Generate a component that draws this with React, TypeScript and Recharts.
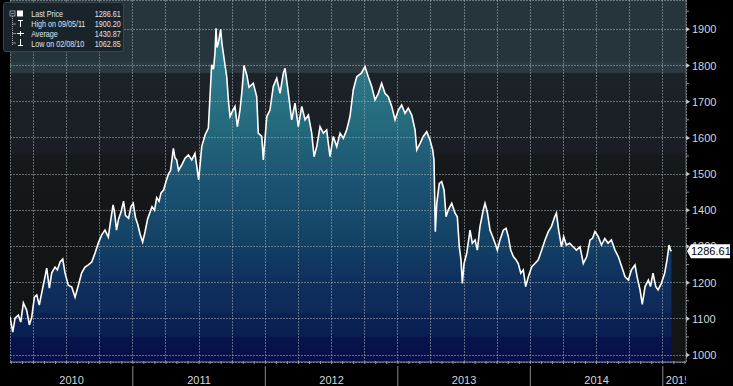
import React from "react";
import {
  ComposedChart,
  Area,
  Line,
  XAxis,
  YAxis,
  CartesianGrid,
} from "recharts";

// decimal years and closing prices
const years = [
  2010.073, 2010.094, 2010.111, 2010.136, 2010.154, 2010.174, 2010.199, 2010.219,
  2010.237, 2010.257, 2010.275, 2010.294, 2010.312, 2010.337, 2010.35, 2010.37,
  2010.388, 2010.413, 2010.43, 2010.451, 2010.471, 2010.488, 2010.513, 2010.539,
  2010.564, 2010.589, 2010.614, 2010.639, 2010.664, 2010.69, 2010.715, 2010.74,
  2010.765, 2010.79, 2010.815, 2010.832, 2010.851, 2010.862, 2010.877, 2010.892,
  2010.911, 2010.93, 2010.945, 2010.968, 2010.986, 2011.003, 2011.02, 2011.038,
  2011.054, 2011.074, 2011.092, 2011.111, 2011.127, 2011.145, 2011.164, 2011.18,
  2011.198, 2011.213, 2011.232, 2011.251, 2011.269, 2011.285, 2011.306, 2011.318,
  2011.331, 2011.345, 2011.369, 2011.394, 2011.419, 2011.445, 2011.469, 2011.497,
  2011.52, 2011.545, 2011.57, 2011.595, 2011.609, 2011.62, 2011.628, 2011.635,
  2011.645, 2011.654, 2011.663, 2011.673, 2011.683, 2011.696, 2011.709, 2011.722,
  2011.734, 2011.751, 2011.771, 2011.789, 2011.809, 2011.824, 2011.839, 2011.86,
  2011.877, 2011.909, 2011.935, 2011.947, 2011.973, 2011.985, 2012.011, 2012.035,
  2012.06, 2012.086, 2012.111, 2012.136, 2012.149, 2012.174, 2012.199, 2012.224,
  2012.249, 2012.275, 2012.3, 2012.325, 2012.35, 2012.368, 2012.388, 2012.413,
  2012.438, 2012.463, 2012.488, 2012.513, 2012.539, 2012.564, 2012.589, 2012.614,
  2012.639, 2012.664, 2012.69, 2012.725, 2012.752, 2012.777, 2012.803, 2012.828,
  2012.853, 2012.878, 2012.903, 2012.928, 2012.954, 2012.979, 2013.004, 2013.029,
  2013.054, 2013.079, 2013.105, 2013.13, 2013.143, 2013.168, 2013.192, 2013.218,
  2013.243, 2013.263, 2013.273, 2013.283, 2013.294, 2013.313, 2013.331, 2013.349,
  2013.364, 2013.381, 2013.407, 2013.432, 2013.449, 2013.464, 2013.477, 2013.487,
  2013.5, 2013.52, 2013.545, 2013.562, 2013.583, 2013.6, 2013.62, 2013.645,
  2013.658, 2013.675, 2013.696, 2013.716, 2013.734, 2013.751, 2013.771, 2013.796,
  2013.817, 2013.834, 2013.852, 2013.872, 2013.892, 2013.909, 2013.928, 2013.947,
  2013.965, 2013.985, 2014.011, 2014.035, 2014.06, 2014.086, 2014.111, 2014.136,
  2014.159, 2014.184, 2014.197, 2014.214, 2014.235, 2014.252, 2014.272, 2014.297,
  2014.323, 2014.348, 2014.375, 2014.4, 2014.426, 2014.451, 2014.469, 2014.488,
  2014.513, 2014.537, 2014.562, 2014.587, 2014.612, 2014.639, 2014.664, 2014.69,
  2014.715, 2014.74, 2014.763, 2014.79, 2014.806, 2014.828, 2014.845, 2014.866,
  2014.891, 2014.907, 2014.926, 2014.947, 2014.964, 2014.989, 2015.014, 2015.032,
  2015.047, 2015.058, 2015.065,
];

const prices = [
  1105, 1063, 1102, 1110, 1091, 1144, 1124, 1083,
  1105, 1160, 1166, 1138, 1171, 1216, 1240, 1185,
  1227, 1243, 1235, 1257, 1265, 1227, 1193, 1188,
  1160, 1193, 1227, 1243, 1249, 1257, 1282, 1310,
  1332, 1345, 1326, 1370, 1415, 1395, 1345, 1375,
  1395, 1425, 1385, 1378, 1410, 1419, 1380, 1360,
  1335, 1312, 1340, 1375, 1392, 1410, 1400, 1435,
  1425, 1448, 1456, 1480, 1500, 1510, 1571, 1545,
  1539, 1510, 1525, 1544, 1553, 1539, 1557, 1484,
  1576, 1608, 1627, 1802, 1790, 1834, 1903, 1850,
  1861, 1880, 1900, 1860, 1834, 1800, 1769, 1700,
  1659, 1673, 1687, 1631, 1677, 1730, 1800, 1774,
  1740, 1751, 1714, 1613, 1604, 1539, 1659, 1677,
  1742, 1765, 1723, 1779, 1792, 1723, 1650, 1696,
  1631, 1687, 1650, 1663, 1613, 1548, 1576, 1631,
  1613, 1622, 1548, 1604, 1576, 1613, 1599, 1622,
  1659, 1733, 1769, 1779, 1797, 1769, 1742, 1705,
  1723, 1751, 1723, 1714, 1687, 1650, 1677, 1691,
  1668, 1682, 1663, 1622, 1567, 1585, 1604, 1617,
  1594, 1567, 1539, 1341, 1419, 1474, 1479, 1456,
  1382, 1401, 1419, 1392, 1382, 1299, 1263, 1198,
  1253, 1281, 1345, 1309, 1318, 1290, 1355, 1401,
  1419, 1396, 1345, 1327, 1309, 1290, 1318, 1345,
  1350, 1327, 1290, 1272, 1263, 1253, 1226, 1235,
  1189, 1216, 1244, 1253, 1263, 1290, 1318, 1341,
  1355, 1382, 1392, 1345, 1299, 1327, 1304, 1309,
  1299, 1290, 1299, 1253, 1272, 1318, 1322, 1341,
  1327, 1304, 1322, 1309, 1318, 1290, 1272, 1244,
  1216, 1207, 1235, 1249, 1216, 1180, 1140, 1189,
  1207, 1189, 1226, 1189, 1180, 1198, 1226, 1263,
  1304, 1290, 1286.61,
];

const priceTicks = [1000, 1100, 1200, 1300, 1400, 1500, 1600, 1700, 1800, 1900];
const minorPriceTicks = [1050, 1150, 1250, 1350, 1450, 1550, 1650, 1750, 1850, 1950];
const yearLabels = ["2010", "2011", "2012", "2013", "2014", "2015"];
const lastPrice = 1286.61;

const legendRows = [
  { label: "Last Price", value: "1286.61" },
  { label: "High on 09/05/11", value: "1900.20" },
  { label: "Average", value: "1430.87" },
  { label: "Low on 02/08/10", value: "1062.85" },
];

const data = years.map((t, i) => ({ t, price: prices[i] }));

const monthTicks = Array.from({ length: 62 }, (_, i) => 2010 + (i + 1) / 12);
const quarterTicks = monthTicks.filter((_, i) => (i + 1) % 3 === 0);

// right axis ticks, top to bottom so the last price box draws over 1300
const yTicks = [...priceTicks, ...minorPriceTicks, lastPrice].sort((a, b) =>
  a === lastPrice ? 1 : b === lastPrice ? -1 : b - a
);

const X_DOMAIN: [number, number] = [2010.073, 2015.175];
const Y_DOMAIN: [number, number] = [980.7, 1981];
const W = 733;
const H = 386;
const MARGIN = { top: 0, right: 0, bottom: 0, left: 10 };

const FONT = "'Liberation Sans', Arial, sans-serif";
const GRID = "#9aa5aa";

const YTick = (props: any) => {
  const { x, y, payload } = props;
  const v = payload.value;
  if (v === lastPrice) {
    return (
      <g>
        <polygon
          points={`${x + 1},${y} ${x + 5},${y - 7} ${x + 44},${y - 7} ${x + 44},${y + 7} ${x + 5},${y + 7}`}
          fill="#ffffff"
        />
        <text x={x + 5} y={y + 4} fontSize={11} fontFamily={FONT} fill="#000">
          {v.toFixed(2)}
        </text>
      </g>
    );
  }
  if (v % 100 === 0) {
    return (
      <g>
        <polygon points={`${x},${y - 2.5} ${x + 4},${y} ${x},${y + 2.5}`} fill="#c8c8c8" />
        <text x={x + 6} y={y + 4} fontSize={11} fontFamily={FONT} fill="#d6d6d6">
          {v}
        </text>
      </g>
    );
  }
  return <line x1={x} y1={y} x2={x + 3} y2={y} stroke="#8a8a8a" />;
};

const XTick = (props: any) => {
  const { x, y, payload } = props;
  const idx = Math.round((payload.value - 2010) * 12);
  const m = idx % 12;
  const yr = Math.floor(idx / 12);
  return (
    <g>
      <line x1={x} y1={y - 1} x2={x} y2={y + 2} stroke="#8f96a8" />
      {m === 0 && <line x1={x} y1={y + 4} x2={x} y2={y + 24} stroke="#8a8a8a" />}
      {m === 6 && (
        <text
          x={yr === 0 ? x + 5 : x}
          y={y + 22}
          textAnchor="middle"
          fontSize={11}
          fontFamily={FONT}
          fill="#d6d6d6"
        >
          {yearLabels[yr]}
        </text>
      )}
      {m === 0 && yr === 5 && (
        <g>
          <defs>
            <clipPath id="clip2015">
              <rect x={x} y={y} width={23} height={26} />
            </clipPath>
          </defs>
          <text
            x={x + 3}
            y={y + 22}
            fontSize={11}
            fontFamily={FONT}
            fill="#d6d6d6"
            clipPath="url(#clip2015)"
          >
            {yearLabels[yr]}
          </text>
        </g>
      )}
    </g>
  );
};

const LegendBox = () => (
  <div
    style={{
      position: "absolute",
      left: 3,
      top: 2,
      width: 119,
      height: 48,
      background: "#18232a",
      border: "1px solid #3a464c",
      borderRadius: 3,
    }}
  >
    <svg width={119} height={48}>
      <rect x={6} y={8} width={5} height={5} fill="none" stroke="#aab" strokeWidth={0.8} />
      <line x1={7} y1={10.5} x2={10} y2={10.5} stroke="#aab" strokeWidth={0.8} />
      <rect x={13} y={7.5} width={6} height={6} fill="#fff" />
      <line x1={8.5} y1={13} x2={8.5} y2={42} stroke="#aab" strokeDasharray="1 1" />
      {[21, 30.5, 40].map((cy) => (
        <line key={cy} x1={8.5} y1={cy} x2={12} y2={cy} stroke="#aab" strokeWidth={0.8} />
      ))}
      <line x1={14} y1={17.5} x2={19} y2={17.5} stroke="#fff" />
      <line x1={16.5} y1={17.5} x2={16.5} y2={24} stroke="#fff" />
      <line x1={13} y1={30.5} x2={20} y2={30.5} stroke="#fff" />
      <line x1={16.5} y1={28} x2={16.5} y2={33} stroke="#fff" />
      <line x1={16.5} y1={36} x2={16.5} y2={42.5} stroke="#fff" />
      <line x1={14} y1={42.5} x2={19} y2={42.5} stroke="#fff" />
      <g transform="scale(0.8 1)">
        {legendRows.map((r, i) => (
          <g key={r.label}>
            <text x={34} y={14.5 + i * 9.7} fontSize={9} fontFamily={FONT} fill="#e2e6e8">
              {r.label}
            </text>
            <text
              x={146}
              y={14.5 + i * 9.7}
              fontSize={9}
              fontFamily={FONT}
              fill="#e2e6e8"
              textAnchor="end"
            >
              {r.value}
            </text>
          </g>
        ))}
      </g>
    </svg>
  </div>
);

export default function App() {
  return (
    <div
      style={{
        position: "absolute",
        left: 0,
        top: 0,
        width: W,
        height: H,
        background: "#000",
        overflow: "hidden",
      }}
    >
      {/* base layer: background bands, filled area, axes */}
      <ComposedChart width={W} height={H} data={data} margin={MARGIN}>
        <defs>
          <linearGradient id="bgGrad" x1="0" y1="0" x2="0" y2="1">
            <stop offset="0" stopColor="#25353b" />
            <stop offset="0.17" stopColor="#25353b" />
            <stop offset="0.171" stopColor="#2b3b41" />
            <stop offset="0.2" stopColor="#2b3b41" />
            <stop offset="0.202" stopColor="#1c2229" />
            <stop offset="0.42" stopColor="#1a1e24" />
            <stop offset="0.43" stopColor="#16191c" />
            <stop offset="0.65" stopColor="#131517" />
            <stop offset="1" stopColor="#111315" />
          </linearGradient>
          <linearGradient id="areaGrad" gradientUnits="userSpaceOnUse" x1="0" y1="0" x2="0" y2="362">
            <stop offset="0" stopColor="#33889a" />
            <stop offset="0.2" stopColor="#2c7888" />
            <stop offset="0.35" stopColor="#24697c" />
            <stop offset="0.5" stopColor="#1b5372" />
            <stop offset="0.65" stopColor="#144467" />
            <stop offset="0.78" stopColor="#0f2f5d" />
            <stop offset="0.862" stopColor="#0e2a5a" />
            <stop offset="0.866" stopColor="#0b2153" />
            <stop offset="0.928" stopColor="#0a1f52" />
            <stop offset="0.932" stopColor="#08144b" />
            <stop offset="1" stopColor="#070f48" />
          </linearGradient>
        </defs>
        <CartesianGrid
          fill="url(#bgGrad)"
          fillOpacity={1}
          stroke="none"
          horizontal={false}
          vertical={false}
        />
        <XAxis
          dataKey="t"
          type="number"
          domain={X_DOMAIN}
          allowDataOverflow
          ticks={monthTicks}
          interval={0}
          height={24}
          tickLine={false}
          tickSize={0}
          tickMargin={0}
          axisLine={{ stroke: "#7d8597" }}
          tick={<XTick />}
        />
        <YAxis
          orientation="right"
          type="number"
          domain={Y_DOMAIN}
          allowDataOverflow
          ticks={yTicks}
          interval={0}
          width={47}
          tickLine={false}
          tickSize={0}
          tickMargin={0}
          axisLine={{ stroke: "#5f6366" }}
          tick={<YTick />}
        />
        <Area
          type="linear"
          dataKey="price"
          stroke="none"
          fill="url(#areaGrad)"
          fillOpacity={1}
          dot={false}
          activeDot={false}
          isAnimationActive={false}
        />
      </ComposedChart>

      {/* top layer: dotted grid over the fill, then the price line */}
      <div style={{ position: "absolute", left: 0, top: 0, pointerEvents: "none" }}>
        <ComposedChart width={W} height={H} data={data} margin={MARGIN}>
          <CartesianGrid
            stroke={GRID}
            strokeOpacity={0.6}
            strokeWidth={1}
            strokeDasharray="2 1"
            shapeRendering="crispEdges"
            fill="none"
          />
          <XAxis
            dataKey="t"
            type="number"
            domain={X_DOMAIN}
            allowDataOverflow
            ticks={quarterTicks}
            interval={0}
            height={24}
            tick={{ fill: "transparent", fontSize: 1 }}
            tickLine={false}
            axisLine={false}
          />
          <YAxis
            orientation="right"
            type="number"
            domain={Y_DOMAIN}
            allowDataOverflow
            ticks={priceTicks}
            interval={0}
            width={47}
            tick={{ fill: "transparent", fontSize: 1 }}
            tickLine={false}
            axisLine={false}
          />
          <Line
            type="linear"
            dataKey="price"
            stroke="#ffffff"
            strokeWidth={1.6}
            dot={false}
            activeDot={false}
            isAnimationActive={false}
          />
        </ComposedChart>
      </div>
      <LegendBox />
    </div>
  );
}
